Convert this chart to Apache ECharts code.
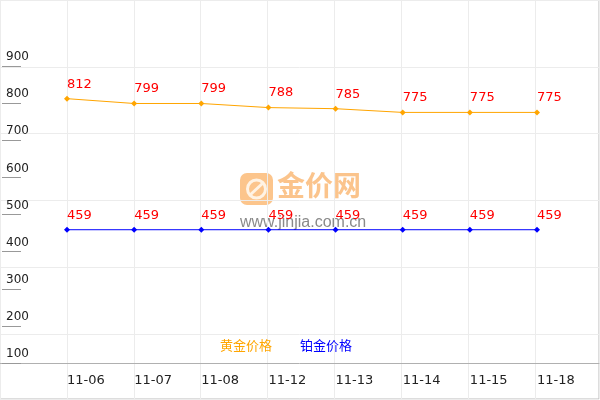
<!DOCTYPE html>
<html>
<head>
<meta charset="utf-8">
<script src="https://cdn.jsdelivr.net/npm/echarts@6/dist/echarts.min.js"></script>
<style>
  html, body { margin: 0; padding: 0; background: #fff; }
  #chart { width: 600px; height: 400px; }
</style>
</head>
<body>
<div id="chart"></div>
<script>
(function () {
    let dates = ['11-06', '11-07', '11-08', '11-12', '11-13', '11-14', '11-15', '11-18']
    let goldPrice = [812, 799, 799, 788, 785, 775, 775, 775]
    let platinumPrice = [459, 459, 459, 459, 459, 459, 459, 459]
    let yTicks = [100, 900, 100] // min, max, step

    let chart = echarts.init(document.getElementById('chart'))
    let font = 'DejaVu Sans, Verdana, sans-serif'

    // 数值标签：点的上方，左对齐
    let valueLabel = {
        show: true,
        position: 'top',
        align: 'left',
        distance: 5,
        color: '#ff0000',
        fontSize: 13,
        fontFamily: font
    }

    let option = {
        backgroundColor: '#fff',
        animation: false,
        grid: [
            // 背景方格 + 外框
            { left: 0, right: 1, top: 0, bottom: 1, show: true, borderColor: '#bbbbbb', borderWidth: 1, backgroundColor: 'transparent' },
            // 数据区
            { left: 67, right: 63, top: 66, bottom: 37 }
        ],
        xAxis: [
            {
                gridIndex: 0, type: 'value', min: 0, max: 600, interval: 67,
                offset: -36,
                axisLine: { show: true, onZero: false, lineStyle: { color: '#b0b0b0', width: 1 } },
                axisTick: { show: false }, axisLabel: { show: false },
                splitLine: { show: true, lineStyle: { color: '#ececec' } }
            },
            {
                gridIndex: 1, type: 'category', data: dates, boundaryGap: false,
                axisLine: { show: false }, axisTick: { show: false },
                axisLabel: { align: 'left', margin: 11, color: '#222', fontSize: 13, fontFamily: font },
                splitLine: { show: false }
            }
        ],
        yAxis: [
            {
                gridIndex: 0, type: 'value', inverse: true, min: 0, max: 400, interval: 67,
                axisLine: { show: false }, axisTick: { show: false }, axisLabel: { show: false },
                splitLine: { show: true, lineStyle: { color: '#ececec' } }
            },
            {
                gridIndex: 1, type: 'value', min: yTicks[0], max: yTicks[1], interval: yTicks[2],
                offset: 65,
                axisLine: { show: false },
                axisTick: { show: true, inside: true, length: 19, lineStyle: { color: '#999' } },
                axisLabel: {
                    inside: true, align: 'left', verticalAlign: 'bottom', margin: 4,
                    padding: [0, 0, 3, 0], color: '#222', fontSize: 12, fontFamily: font
                },
                splitLine: { show: false }
            }
        ],
        legend: {
            left: 210,
            top: 334,
            itemWidth: 0,
            itemHeight: 0,
            itemGap: 23,
            textStyle: { fontSize: 13, fontFamily: 'Noto Sans CJK SC, sans-serif' },
            data: [
                { name: '黄金价格', icon: 'rect', textStyle: { color: '#ffa500' } },
                { name: '铂金价格', icon: 'rect', textStyle: { color: '#0000ff' } }
            ]
        },
        graphic: [
            {
                type: 'group', left: 240, top: 171, z: 1, silent: true,
                children: [
                    { type: 'rect', shape: { x: 0, y: 0, width: 33, height: 32, r: 7 }, style: { fill: '#fcc58c' } },
                    { type: 'circle', shape: { cx: 16.5, cy: 16, r: 9 }, style: { fill: 'none', stroke: '#fff3e4', lineWidth: 3 } },
                    { type: 'line', shape: { x1: 10, y1: 22, x2: 23, y2: 10 }, style: { stroke: '#fff3e4', lineWidth: 3 } },
                    {
                        type: 'text', x: 37, y: -2,
                        style: { text: '金价网', fill: '#fbc48c', font: 'bold 28px "Noto Sans CJK SC", sans-serif' }
                    },
                    {
                        type: 'text', x: 0, y: 42,
                        style: { text: 'www.jinjia.com.cn', fill: '#8a8a8a', font: '16px "Liberation Sans", Arial, sans-serif' }
                    }
                ]
            }
        ],
        series: [
            {
                name: '黄金价格', type: 'line', xAxisIndex: 1, yAxisIndex: 1, z: 3,
                data: goldPrice,
                symbol: 'diamond', symbolSize: 6, showAllSymbol: true,
                lineStyle: { color: '#ffa500', width: 1 },
                itemStyle: { color: '#ffa500' },
                label: valueLabel
            },
            {
                name: '铂金价格', type: 'line', xAxisIndex: 1, yAxisIndex: 1, z: 3,
                data: platinumPrice,
                symbol: 'diamond', symbolSize: 6, showAllSymbol: true,
                lineStyle: { color: '#0000ff', width: 1 },
                itemStyle: { color: '#0000ff' },
                label: valueLabel
            }
        ]
    }

    chart.setOption(option)
    window.addEventListener('resize', function () {
        chart.resize()
    })
})()
</script>
</body>
</html>
